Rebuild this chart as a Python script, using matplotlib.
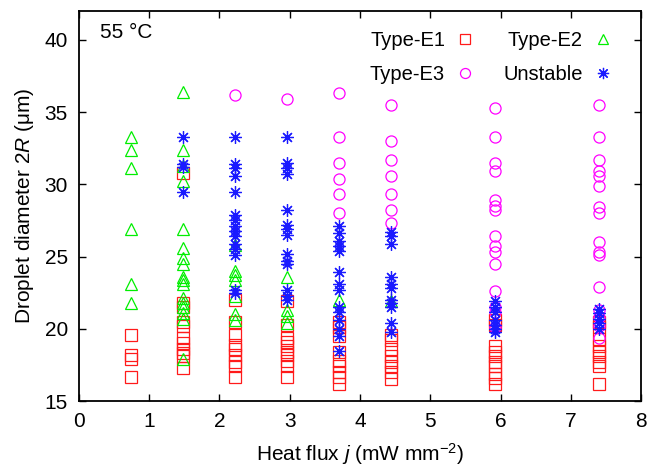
import matplotlib
matplotlib.use("Agg")
import matplotlib.pyplot as plt
from matplotlib.lines import Line2D

# heat flux columns (mW mm^-2)
flux = [0.74, 1.48, 2.22, 2.96, 3.70, 4.44, 5.92, 7.40]

# droplet diameters (um) per flux column, one list per regime
e1_d = [
    [19.6, 18.2, 17.9, 16.7],
    [30.8, 21.8, 21.5, 20.5, 20.2, 19.4, 19.0, 18.6, 18.3, 18.1, 17.3],
    [22.0, 20.5, 19.6, 18.9, 18.6, 18.2, 17.7, 17.4, 16.7],
    [21.9, 20.3, 19.4, 19.1, 18.8, 18.4, 18.2, 17.8, 17.4, 16.7],
    [20.5, 20.1, 19.5, 18.4, 17.8, 17.4, 17.0, 16.7, 16.2],
    [19.6, 19.2, 18.6, 18.1, 17.7, 17.4, 17.0, 16.5],
    [20.6, 20.3, 18.8, 18.4, 18.1, 17.7, 17.4, 16.9, 16.6, 16.2],
    [20.5, 20.1, 19.3, 18.8, 18.4, 18.1, 17.7, 17.4, 16.2],
]
e2_d = [
    [33.3, 32.4, 31.1, 26.9, 23.1, 21.8],
    [36.4, 32.4, 31.3, 30.2, 26.9, 25.6, 24.9, 24.5, 23.6, 23.4, 23.1,
     22.1, 21.8, 21.5, 21.1, 20.7, 17.9],
    [25.8, 24.0, 23.7, 23.4, 22.3, 21.0, 20.6],
    [23.6, 21.3, 20.9, 20.4],
    [22.0],
    [21.9],
    [],
    [],
]
e3_d = [
    [],
    [],
    [36.2],
    [35.9],
    [36.3, 33.3, 31.5, 30.4, 29.3, 28.0],
    [35.5, 33.0, 31.7, 30.6, 29.3, 28.2, 27.3],
    [35.3, 33.3, 31.5, 30.9, 28.9, 28.5, 28.2, 26.4, 25.7, 25.3, 24.5,
     22.6, 21.5, 21.2, 20.1],
    [35.5, 33.3, 31.7, 30.9, 30.6, 29.9, 28.4, 28.0, 26.0, 25.3, 25.1,
     22.9, 21.3, 20.8, 20.2, 19.4],
]
unst_d = [
    [],
    [33.3, 31.4, 31.2, 29.5],
    [33.3, 31.4, 31.1, 30.6, 29.5, 27.9, 27.5, 27.1, 26.8, 26.4, 25.9,
     25.5, 25.1, 22.7, 22.5],
    [33.3, 31.5, 31.1, 30.7, 28.2, 27.2, 26.9, 26.5, 25.2, 24.7, 24.5,
     22.7, 22.3, 22.0],
    [27.1, 26.6, 26.1, 25.7, 25.4, 23.9, 23.1, 22.7, 21.5, 21.2, 20.6,
     20.0, 19.5, 18.5],
    [26.7, 26.4, 25.9, 23.6, 23.1, 22.8, 22.0, 21.8, 21.5, 20.4, 19.8],
    [21.9, 21.5, 21.2, 20.6, 20.3, 20.0, 19.8],
    [21.4, 21.1, 20.7, 20.4, 20.0],
]

plt.rcParams.update({
    "font.family": ["Liberation Sans", "DejaVu Sans"],
    "font.size": 15,
    "mathtext.fontset": "custom",
    "mathtext.rm": "Liberation Sans",
    "mathtext.it": "Liberation Sans:italic",
})


def flatten(cols):
    xs, ys = [], []
    for x, vals in zip(flux, cols):
        xs += [x] * len(vals)
        ys += vals
    return xs, ys


series = [
    ("Type-E1", e1_d, "s", "#ff1a1a", 8),
    ("Type-E2", e2_d, "^", "#00ee00", 8),
    ("Type-E3", e3_d, "o", "#ff00ff", 8),
    ("Unstable", unst_d, (8, 2, 0), "#1a1aff", 9),
]

fig = plt.figure(figsize=(6.47, 4.68), dpi=100)
ax = fig.add_axes([0.122, 0.143, 0.869, 0.8335])

handles = {}
for name, cols, mk, col, ms in series:
    xs, ys = flatten(cols)
    ax.plot(xs, ys, linestyle="none", marker=mk, ms=ms, mfc="none",
            mec=col, mew=0.9)
    handles[name] = Line2D([], [], linestyle="none", marker=mk, ms=ms * 0.9,
                           mfc="none", mec=col, mew=0.9)

ax.set_xlim(0, 8)
ax.set_ylim(15, 42)
ax.set_xticks(range(0, 9))
ax.set_yticks([15, 20, 25, 30, 35, 40])
ax.tick_params(direction="in", top=True, right=True, length=5, width=1,
               pad=8, labelsize=15)
for s in ax.spines.values():
    s.set_linewidth(1.3)

ax.set_xlabel(r"Heat flux $j$ (mW mm$^{-2}$)", fontsize=15, labelpad=7)
ax.set_ylabel(r"Droplet diameter 2$R$ ($\mathrm{\mu}$m)", fontsize=15, labelpad=6)

ax.text(0.037, 0.944, "55 °C", transform=ax.transAxes, fontsize=15,
        va="center", ha="left")

order = ["Type-E1", "Type-E3", "Type-E2", "Unstable"]
ax.legend([handles[k] for k in order], order, ncol=2, markerfirst=False,
          frameon=False, loc="upper right", bbox_to_anchor=(0.968, 0.975),
          borderpad=0, handlelength=1.0, handletextpad=0.5,
          columnspacing=1.4, labelspacing=0.75, fontsize=14.5)

fig.savefig("out.png", dpi=100)
